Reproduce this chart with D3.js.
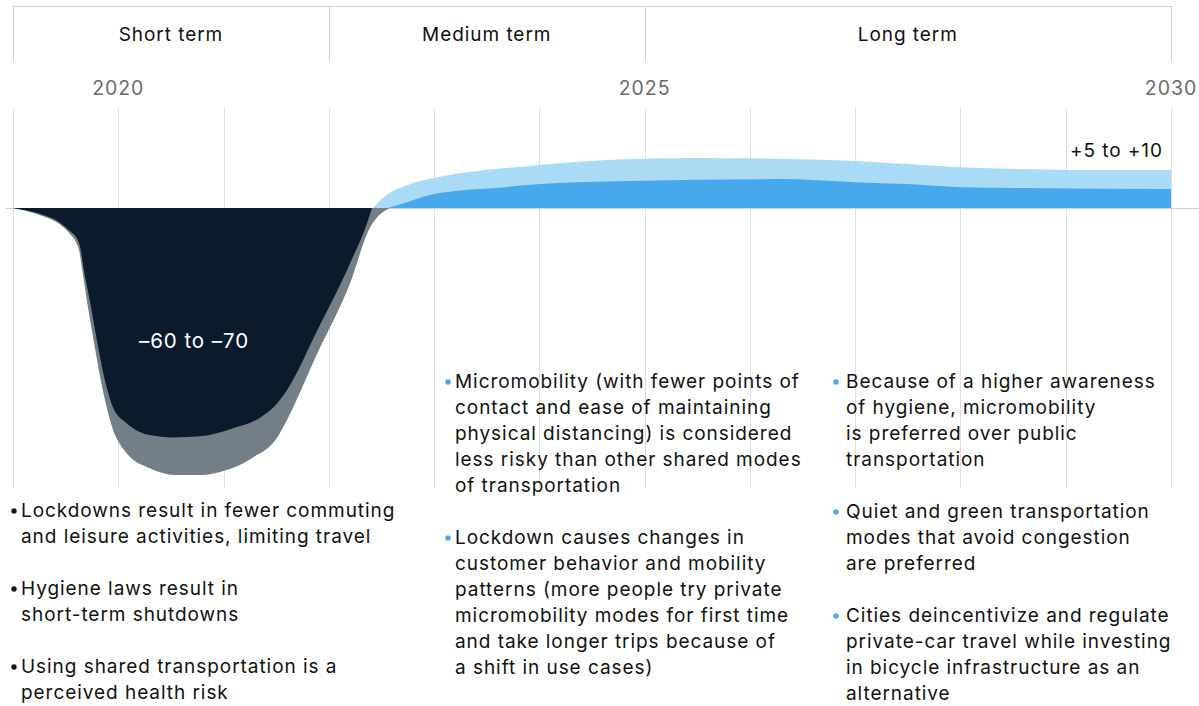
<!DOCTYPE html>
<html>
<head>
<meta charset="utf-8">
<script src="https://cdn.jsdelivr.net/npm/d3@7"></script>
<style>
  html, body { margin: 0; padding: 0; background: #fff; }
  svg { display: block; font-family: Inter, "Noto Sans", sans-serif; letter-spacing: 0.95px; }
</style>
</head>
<body>
<svg id="chart" width="1199" height="706"></svg>
<script>
// Time periods shown in the header row
const periods = ["Short term", "Medium term", "Long term"];
const periodBounds = [2019, 2022, 2025, 2030];
const yearLabels = [2020, 2025, 2030];
const gridYears = d3.range(2019, 2031);

// Change in micromobility usage, %: range of outcomes over time
const dropYears   = [2019, 2019.26, 2019.45, 2019.54, 2019.61, 2019.64, 2019.67, 2019.73, 2019.78, 2019.89, 2019.95, 2020.08, 2020.30, 2020.52, 2020.78, 2021.09, 2021.35, 2021.51, 2021.60, 2021.89, 2022.20, 2022.36, 2022.41];
const dropUpper   = [0, -1.6, -3.9, -6.0, -8.1, -10.4, -15.6, -24.1, -31.9, -46.7, -51.9, -56.0, -59.1, -59.7, -59.4, -57.3, -54.5, -50.8, -47.5, -31.9, -14.5, -4.2, 0];
const dropYearsL  = [2019, 2019.26, 2019.45, 2019.54, 2019.60, 2019.63, 2019.66, 2019.71, 2019.76, 2019.87, 2019.93, 2020.08, 2020.30, 2020.56, 2020.78, 2021.03, 2021.28, 2021.51, 2021.60, 2021.89, 2022.20, 2022.39, 2022.47, 2022.58];
const dropLower   = [0, -1.9, -4.4, -6.7, -9.0, -11.3, -16.5, -25.5, -33.6, -49.5, -56.0, -63.8, -67.7, -69.5, -69.5, -68.2, -64.9, -59.7, -55.3, -37.9, -19.7, -5.2, -2.1, 0];

const riseYearsH  = [2022.42, 2022.56, 2022.72, 2023.00, 2023.20, 2023.58, 2024.01, 2024.86, 2025.50, 2026.38, 2027.00, 2027.49, 2028.00, 2028.59, 2029.01, 2030];
const riseUpper   = [0, 3.6, 5.7, 7.8, 8.8, 10.1, 11.2, 12.7, 13.0, 12.7, 12.2, 11.4, 10.6, 10.1, 9.9, 9.9];
const riseYearsL  = [2022.56, 2022.72, 2023.00, 2023.20, 2023.58, 2024.01, 2024.86, 2026.29, 2027.00, 2027.49, 2028.00, 2028.59, 2030];
const riseLower   = [0, 1.3, 3.6, 4.4, 5.2, 6.2, 7.0, 7.5, 6.7, 6.2, 5.4, 5.2, 4.9];

const dropLabel = "–60 to –70";
const riseLabel = "+5 to +10";

// Drivers listed under each period
const shortNotes = [
  ["Lockdowns result in fewer commuting", "and leisure activities, limiting travel"],
  ["Hygiene laws result in", "short-term shutdowns"],
  ["Using shared transportation is a", "perceived health risk"]
];
const mediumNotes = [
  ["Micromobility (with fewer points of", "contact and ease of maintaining", "physical distancing) is considered", "less risky than other shared modes", "of transportation"],
  ["Lockdown causes changes in", "customer behavior and mobility", "patterns (more people try private", "micromobility modes for first time", "and take longer trips because of", "a shift in use cases)"]
];
const longNotes = [
  ["Because of a higher awareness", "of hygiene, micromobility", "is preferred over public", "transportation"],
  ["Quiet and green transportation", "modes that avoid congestion", "are preferred"],
  ["Cities deincentivize and regulate", "private-car travel while investing", "in bicycle infrastructure as an", "alternative"]
];

const colors = {
  navy: "#0b1b2b",
  gray: "#737e87",
  lightBlue: "#a9dbf6",
  blue: "#47a8eb",
  rule: "#cfcfcf",
  grid: "#dedede"
};

const svg = d3.select("#chart");
const x = d3.scaleLinear().domain([2019, 2030]).range([13, 1171]);
const y = d3.scaleLinear().domain([-70, 10]).range([477, 169.5]);
const fontSize = 19;

// Header boxes
const header = svg.append("g");
header.append("line")
  .attr("x1", x(2019)).attr("x2", x(2030)).attr("y1", 6.5).attr("y2", 6.5)
  .attr("stroke", colors.rule);
header.selectAll("line.div").data(periodBounds).join("line")
  .attr("class", "div")
  .attr("x1", d => Math.round(x(d)) + 0.5).attr("x2", d => Math.round(x(d)) + 0.5)
  .attr("y1", 6).attr("y2", 61)
  .attr("stroke", colors.rule);
header.selectAll("text").data(periods).join("text")
  .attr("x", (d, i) => (x(periodBounds[i]) + x(periodBounds[i + 1])) / 2)
  .attr("y", 41)
  .attr("text-anchor", "middle")
  .attr("font-size", fontSize)
  .attr("fill", "#111")
  .text(d => d);

// Year labels
svg.append("g").selectAll("text").data(yearLabels).join("text")
  .attr("x", d => x(d))
  .attr("y", 95)
  .attr("text-anchor", "middle")
  .attr("font-size", fontSize + 0.5)
  .attr("fill", "#6a6a6a")
  .text(d => d);

// Vertical grid
svg.append("g").selectAll("line").data(gridYears).join("line")
  .attr("x1", d => Math.round(x(d)) + 0.5).attr("x2", d => Math.round(x(d)) + 0.5)
  .attr("y1", 108).attr("y2", 488)
  .attr("stroke", colors.grid);

// Zero line
svg.append("line")
  .attr("x1", 6).attr("x2", 1199)
  .attr("y1", Math.round(y(0)) + 0.5).attr("y2", Math.round(y(0)) + 0.5)
  .attr("stroke", colors.rule);

const area = d3.area()
  .x(d => x(d[0]))
  .y0(y(0))
  .y1(d => y(d[1]))
  .curve(d3.curveMonotoneX);

const series = [
  { years: dropYearsL, values: dropLower, fill: colors.gray },
  { years: dropYears, values: dropUpper, fill: colors.navy },
  { years: riseYearsH, values: riseUpper, fill: colors.lightBlue },
  { years: riseYearsL, values: riseLower, fill: colors.blue }
];
svg.append("g").selectAll("path").data(series).join("path")
  .attr("d", s => area(d3.zip(s.years, s.values)))
  .attr("fill", s => s.fill);

// Range labels
svg.append("text")
  .attr("x", x(2020.72)).attr("y", 348)
  .attr("text-anchor", "middle")
  .attr("font-size", 20.5)
  .attr("fill", "#fff")
  .text(dropLabel);
svg.append("text")
  .attr("x", 1163).attr("y", 157)
  .attr("text-anchor", "end")
  .attr("font-size", fontSize)
  .attr("fill", "#111")
  .text(riseLabel);

// Bulleted notes
const lineH = 26;
function notes(items, dotX, textX, firstBaseline, dotColor) {
  const g = svg.append("g");
  let base = firstBaseline;
  items.forEach(lines => {
    g.append("circle")
      .attr("cx", dotX).attr("cy", base - 6).attr("r", 2.7)
      .attr("fill", dotColor);
    const t = g.append("text")
      .attr("font-size", fontSize)
      .attr("fill", "#111");
    lines.forEach((ln, i) => {
      t.append("tspan").attr("x", textX).attr("y", base + i * lineH).text(ln);
    });
    base += (lines.length + 1) * lineH;
  });
}
notes(shortNotes, 14, 21, 517, colors.navy);
notes(mediumNotes, 448, 455, 388, colors.blue);
notes(longNotes, 836, 846, 388, colors.blue);
</script>
</body>
</html>
